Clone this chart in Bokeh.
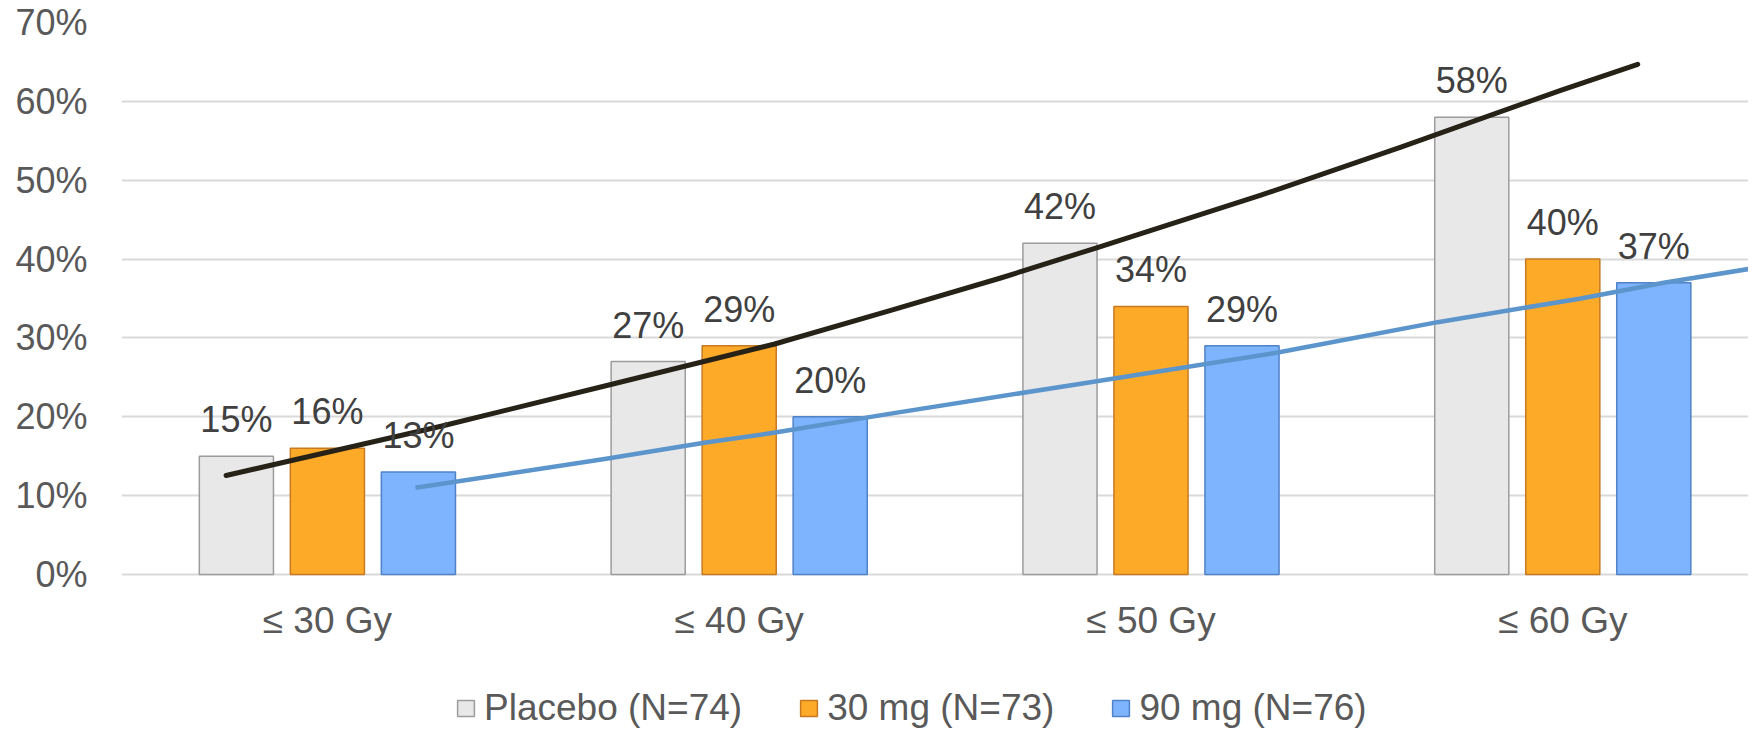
from bokeh.plotting import figure
from bokeh.models import (Range1d, FixedTicker, NumeralTickFormatter, Legend, LegendItem,
                          ColumnDataSource, LabelSet)
from bokeh.core.properties import value
from bokeh.embed import file_html
from bokeh.resources import INLINE

# ---------------- data ----------------
categories = ["≤ 30 Gy", "≤ 40 Gy", "≤ 50 Gy", "≤ 60 Gy"]
series_names = ["Placebo (N=74)", "30 mg (N=73)", "90 mg (N=76)"]
placebo = [0.15, 0.27, 0.42, 0.58]
mg30 = [0.16, 0.29, 0.34, 0.40]
mg90 = [0.13, 0.20, 0.29, 0.37]
y_ticks = [0.0, 0.1, 0.2, 0.3, 0.4, 0.5, 0.6, 0.7]

# trend lines (x in category-index units, y as fraction)
trend_black_x = [-0.246, 0.276, 0.681, 1.084, 1.368, 1.635, 1.866, 2.267, 2.607, 2.995, 3.182]
trend_black_y = [0.1255, 0.188, 0.240, 0.292, 0.335, 0.376, 0.414, 0.481, 0.542, 0.614, 0.647]
trend_blue_x = [0.214, 0.681, 0.915, 1.087, 1.368, 1.830, 2.308, 2.696, 3.044, 3.245, 3.471]
trend_blue_y = [0.110, 0.147, 0.167, 0.180, 0.204, 0.242, 0.2815, 0.320, 0.350, 0.370, 0.389]

# ---------------- styles ----------------
FONT = "Liberation Sans"
fills = ["#e8e8e8", "#fdaa28", "#7eb4fd"]
borders = ["#9c9c9c", "#c77a22", "#4f82c6"]
bar_w = 0.18
step = 0.221
offsets = [-step, 0.0, step]

W, H = 1748, 729
p = figure(width=W, height=H, output_backend="svg", toolbar_location=None,
           x_range=Range1d(-0.5, 3.451), y_range=Range1d(-0.19656, 0.70),
           min_border_left=121, min_border_right=0, min_border_top=22, min_border_bottom=0)
p.outline_line_color = None
p.background_fill_color = "white"
p.border_fill_color = "white"
p.xaxis.visible = False

# y axis
p.yaxis.ticker = FixedTicker(ticks=y_ticks)
p.yaxis.formatter = NumeralTickFormatter(format="0%")
p.yaxis.axis_line_color = None
p.yaxis.major_tick_line_color = None
p.yaxis.minor_tick_line_color = None
p.yaxis.major_tick_out = 0
p.yaxis.major_tick_in = 0
p.yaxis.major_label_standoff = 34
p.yaxis.major_label_text_font = FONT
p.yaxis.major_label_text_font_size = "36px"
p.yaxis.major_label_text_color = "#595959"

p.xgrid.grid_line_color = None
p.ygrid.ticker = FixedTicker(ticks=y_ticks)
p.ygrid.grid_line_color = "#d9d9d9"
p.ygrid.grid_line_width = 2

# category labels (x axis)
cat_src = ColumnDataSource(dict(x=list(range(len(categories))), y=[0.0] * len(categories),
                                t=categories))
p.add_layout(LabelSet(x="x", y="y", text="t", source=cat_src, text_align="center",
                      text_baseline="middle", y_offset=-46,
                      text_font=value(FONT), text_font_size="37px", text_color="#595959"))

# bars
items = []
for k, (vals, name) in enumerate(zip([placebo, mg30, mg90], series_names)):
    xs = [i + offsets[k] for i in range(len(categories))]
    src = ColumnDataSource(dict(x=xs, top=vals, lab=[f"{round(v*100)}%" for v in vals]))
    r = p.vbar(x="x", top="top", bottom=0, width=bar_w, source=src,
               fill_color=fills[k], line_color=borders[k], line_width=1.5)
    items.append(LegendItem(label=name, renderers=[r]))
    p.add_layout(LabelSet(x="x", y="top", text="lab", source=src, text_align="center",
                          text_baseline="alphabetic", y_offset=24,
                          text_font=value(FONT), text_font_size="36px", text_color="#404040"))

# trend lines
p.line(trend_black_x, trend_black_y, line_color="#262217", line_width=5, line_cap="round",
       line_join="round")
p.line(trend_blue_x, trend_blue_y, line_color="#5b95cc", line_width=4.5, line_join="round")

legend = Legend(items=items, orientation="horizontal", location=(334, 0),
                glyph_width=21, glyph_height=20, label_standoff=8, spacing=56,
                padding=0, margin=0, border_line_color=None, background_fill_alpha=0,
                label_text_font=FONT, label_text_font_size="37px", label_text_color="#595959")
p.add_layout(legend, "center")

open("out.html", "w").write(file_html(p, INLINE))
